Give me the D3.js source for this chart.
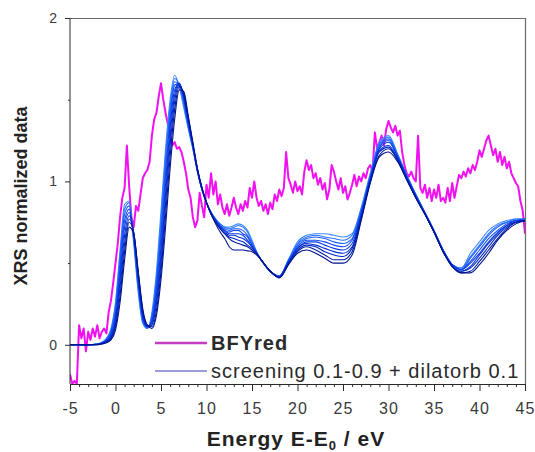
<!DOCTYPE html>
<html>
<head>
<meta charset="utf-8">
<script src="https://cdn.jsdelivr.net/npm/d3@7"></script>
<style>
  body { margin: 0; background: #fff; }
  svg { display: block; }
  text { font-family: "Liberation Sans", Arial, sans-serif; }
</style>
</head>
<body>
<svg id="chart" width="535" height="452"></svg>
<script>
// ---- measured spectrum (BFYred), sampled every 0.25 eV from -5 eV ----
const bfyStart = -5;
const bfyStep = 0.25;
const bfyValues = [
  -0.18, -0.24, -0.22, -0.24,   0.12, 0.04, 0.10, -0.04,
   0.08, 0.03, 0.10, 0.05,      0.12, 0.04, 0.08, 0.10,
   0.07, 0.20, 0.27, 0.38,      0.50, 0.62, 0.78, 0.90,
   0.96, 1.22, 0.97, 0.78,      0.72, 0.85, 0.82, 0.92,
   1.02, 1.05, 1.07, 1.12,      1.28, 1.38, 1.42, 1.52,
   1.60, 1.50, 1.42, 1.35,      1.28, 1.22, 1.24, 1.20,
   1.21, 1.18, 1.12, 1.05,      0.95, 0.90, 0.78, 0.72,
   0.76, 0.93, 0.85, 0.78,      0.98, 0.90, 1.05, 0.92,
   1.00, 0.86, 0.92, 0.84,      0.80, 0.86, 0.79, 0.84,
   0.90, 0.84, 0.80, 0.86,      0.82, 0.88, 0.84, 0.96,
   0.90, 1.00, 0.90, 0.85,      0.88, 0.82, 0.86, 0.80,
   0.87, 0.83, 0.92, 0.88,      0.95, 0.91, 0.96, 1.18,
   1.02, 0.98, 0.93, 1.00,      0.94, 0.97, 0.92, 1.06,
   1.13, 1.07, 1.10, 1.02,      1.05, 0.98, 1.02, 0.95,
   0.99, 0.89, 0.95, 1.10,      1.06, 1.00, 0.95, 1.02,
   0.93, 0.97, 0.89, 0.93,      0.98, 1.04, 0.97, 1.03,
   1.00, 1.05, 1.02, 1.08,      1.10, 1.06, 1.30, 1.20,
   1.24, 1.28, 1.22, 1.32,      1.37, 1.33, 1.30, 1.34,
   1.28, 1.31, 1.18, 1.10,      1.05, 1.03, 1.06, 1.02,
   1.00, 1.28, 0.96, 0.93,      0.98, 0.90, 0.96, 0.88,
   0.95, 0.90, 0.98, 0.88,      0.90, 0.87, 0.96, 0.88,
   0.99, 0.90, 0.97, 1.04,      1.02, 1.06, 1.03, 1.08,
   1.05, 1.10, 1.07, 1.12,      1.19, 1.15, 1.20, 1.25,
   1.28, 1.22, 1.16, 1.20,      1.12, 1.18, 1.10, 1.15,
   1.08, 1.12, 1.05, 1.02,      0.99, 0.97, 0.88, 0.82,
   0.68
];

// ---- calculated spectra: screening 0.1 ... 0.9 (+ dilatorb 0.1) ----
const simEnergy = [
  -5, -4, -3, -2, -1.5, -1, -0.5, 0, 0.5, 1,
  1.5, 2, 2.5, 3, 3.5, 4, 4.5, 5, 5.5, 6,
  6.5, 7, 7.5, 8, 8.5, 9, 9.5, 10, 10.5, 11,
  11.5, 12, 12.5, 13, 13.5, 14, 14.5, 15, 15.5, 16,
  17, 18, 19, 20, 21, 22, 23, 24, 25, 26,
  27, 28, 29, 30, 31, 32, 33, 34, 35, 36,
  37, 38, 39, 40, 41, 42, 43, 44, 45
];
const screeningLevels = [0.1, 0.2, 0.3, 0.4, 0.5, 0.6, 0.7, 0.8, 0.9];
const screeningSpectra = [
  [0,0,0,.005,.015,.04,.10,.26,.58,.86,
   .88,.62,.32,.13,.10,.20,.45,.82,1.20,1.50,
   1.65,1.58,1.45,1.32,1.20,1.06,.95,.87,.81,.77,
   .74,.72,.72,.73,.74,.73,.70,.64,.57,.52,
   .45,.42,.52,.63,.67,.68,.68,.67,.66,.68,
   .84,1.05,1.24,1.28,1.17,1.04,.92,.81,.70,.58,
   .49,.47,.56,.63,.70,.74,.76,.77,.77],
  [0,0,0,.005,.014,.036,.09,.24,.55,.83,
   .87,.64,.34,.14,.10,.18,.41,.77,1.15,1.46,
   1.63,1.59,1.47,1.33,1.20,1.06,.95,.87,.81,.77,
   .74,.72,.71,.72,.73,.72,.69,.63,.57,.52,
   .45,.42,.52,.62,.66,.67,.66,.65,.64,.67,
   .83,1.04,1.23,1.27,1.16,1.04,.92,.81,.70,.58,
   .49,.47,.54,.61,.68,.73,.75,.77,.77],
  [0,0,0,.004,.013,.032,.08,.22,.51,.80,
   .85,.65,.36,.15,.105,.17,.38,.71,1.09,1.42,
   1.61,1.60,1.49,1.34,1.21,1.06,.95,.87,.81,.77,
   .73,.71,.70,.71,.71,.70,.67,.62,.57,.52,
   .45,.42,.51,.61,.65,.66,.65,.63,.62,.65,
   .82,1.03,1.22,1.26,1.16,1.03,.92,.81,.70,.58,
   .49,.46,.53,.60,.67,.72,.75,.76,.77],
  [0,0,0,.004,.011,.028,.07,.19,.47,.76,
   .83,.66,.38,.16,.11,.15,.35,.66,1.04,1.38,
   1.59,1.60,1.50,1.35,1.21,1.07,.95,.87,.81,.76,
   .73,.70,.69,.70,.70,.68,.66,.61,.56,.52,
   .45,.42,.51,.60,.64,.64,.63,.61,.60,.64,
   .81,1.02,1.21,1.25,1.15,1.03,.91,.81,.70,.58,
   .49,.46,.51,.58,.65,.70,.74,.76,.77],
  [0,0,0,.003,.010,.025,.06,.17,.43,.72,
   .81,.67,.40,.17,.11,.14,.31,.60,.98,1.33,
   1.56,1.60,1.51,1.36,1.22,1.07,.95,.87,.81,.76,
   .72,.70,.68,.68,.68,.67,.64,.60,.56,.52,
   .45,.415,.51,.59,.63,.63,.61,.59,.58,.62,
   .80,1.02,1.20,1.24,1.15,1.03,.91,.80,.69,.58,
   .49,.46,.50,.56,.63,.69,.73,.76,.76],
  [0,0,0,.002,.009,.021,.05,.15,.39,.67,
   .79,.68,.41,.18,.115,.13,.28,.55,.92,1.28,
   1.53,1.60,1.52,1.37,1.22,1.07,.96,.87,.80,.76,
   .72,.69,.67,.67,.66,.65,.63,.60,.56,.52,
   .45,.415,.50,.59,.62,.61,.59,.57,.56,.60,
   .79,1.01,1.19,1.22,1.14,1.02,.91,.80,.69,.57,
   .48,.45,.48,.55,.62,.68,.73,.75,.76],
  [0,0,0,.002,.008,.018,.045,.13,.35,.62,
   .77,.685,.43,.19,.115,.12,.25,.50,.86,1.22,
   1.49,1.59,1.53,1.38,1.23,1.07,.96,.87,.80,.75,
   .71,.68,.66,.65,.64,.63,.61,.59,.56,.52,
   .45,.41,.50,.58,.61,.60,.57,.55,.54,.59,
   .78,1.00,1.18,1.21,1.13,1.02,.90,.80,.69,.57,
   .48,.45,.47,.53,.60,.67,.72,.75,.76],
  [0,0,0,.001,.006,.015,.037,.11,.30,.57,
   .75,.69,.44,.205,.12,.11,.21,.45,.79,1.15,
   1.44,1.58,1.54,1.39,1.23,1.08,.96,.87,.80,.75,
   .71,.68,.65,.63,.62,.61,.60,.58,.555,.52,
   .45,.41,.49,.57,.60,.58,.55,.52,.52,.57,
   .77,1.00,1.16,1.20,1.13,1.01,.90,.80,.69,.57,
   .48,.44,.45,.51,.58,.65,.71,.75,.76],
  [0,0,0,0,.005,.012,.03,.09,.26,.52,
   .72,.68,.45,.22,.12,.10,.18,.40,.72,1.08,
   1.38,1.56,1.55,1.40,1.24,1.08,.96,.87,.80,.74,
   .69,.65,.60,.58,.58,.58,.575,.57,.55,.52,
   .45,.41,.49,.56,.58,.56,.53,.50,.50,.55,
   .76,.99,1.15,1.18,1.12,1.01,.90,.80,.69,.57,
   .48,.44,.44,.49,.56,.64,.70,.74,.76]
];
const screeningColors = ["#3d8cff", "#2a72ff", "#1f5eff", "#144af5", "#0a3ce6",
                         "#0532d6", "#0328c0", "#021ca6", "#00128c"];

// ---- axes ----
const xMajorTicks = [-5, 0, 5, 10, 15, 20, 25, 30, 35, 40, 45];
const xMinorTicks = d3.range(-5, 46, 1).filter(v => v % 5 !== 0);
const yMajorTicks = [0, 1, 2];
const yMinorTicks = [0.5, 1.5];

const legendItems = [
  { label: "BFYred", color: "#c43cc4", width: 2.5, bold: true },
  { label: "screening 0.1-0.9 + dilatorb 0.1", color: "#3a3ab0", width: 1, bold: false }
];

const svg = d3.select("#chart");
const plot = { left: 70, right: 525, top: 18, bottom: 384 };

const x = d3.scaleLinear().domain([-5, 45]).range([plot.left, plot.right]);
const y = d3.scaleLinear().domain([-0.24, 2]).range([plot.bottom, plot.top]);

svg.append("defs").append("clipPath").attr("id", "plotClip")
  .append("rect")
  .attr("x", plot.left).attr("y", plot.top)
  .attr("width", plot.right - plot.left).attr("height", plot.bottom - plot.top);

// frame (top / right)
svg.append("path")
  .attr("d", `M${plot.left},${plot.top + 0.5}H${plot.right + 0.5}V${plot.bottom}`)
  .attr("fill", "none").attr("stroke", "#6a6a6a").attr("stroke-width", 1.2);

// data layer
const data = svg.append("g").attr("clip-path", "url(#plotClip)");

const bfyPoints = bfyValues.map((v, i) => [bfyStart + i * bfyStep, v]);
const bfyLine = d3.line().x(d => x(d[0])).y(d => y(d[1])).curve(d3.curveLinear);
data.append("path")
  .attr("d", bfyLine(bfyPoints))
  .attr("fill", "none")
  .attr("stroke", "#f010f0")
  .attr("stroke-width", 2)
  .attr("stroke-linejoin", "round");

const simLine = d3.line()
  .x((d, i) => x(simEnergy[i]))
  .y(d => y(d))
  .curve(d3.curveMonotoneX);

data.selectAll("path.sim")
  .data(screeningSpectra)
  .join("path")
  .attr("class", "sim")
  .attr("d", d => simLine(d))
  .attr("fill", "none")
  .attr("stroke", (d, i) => screeningColors[i])
  .attr("stroke-width", 1.1);

// x axis
const axisColor = "#2a2a2a";
const gx = svg.append("g").attr("transform", `translate(0,${plot.bottom})`);
gx.append("g")
  .call(d3.axisBottom(x).tickValues(xMinorTicks).tickSize(3).tickFormat(""))
  .call(g => g.select(".domain").remove());
gx.append("g")
  .call(d3.axisBottom(x).tickValues(xMajorTicks).tickSize(7).tickPadding(12)
    .tickFormat(d => String(d)))
  .call(g => g.select(".domain").attr("stroke", axisColor));
gx.selectAll("line").attr("stroke", axisColor);
gx.selectAll("text")
  .attr("fill", "#3a3a3a")
  .style("font-size", "16px")
  .style("letter-spacing", "1px")
  .style("font-family", "'Liberation Sans', Arial, sans-serif");

// y axis
const gy = svg.append("g").attr("transform", `translate(${plot.left},0)`);
gy.append("g")
  .call(d3.axisLeft(y).tickValues(yMinorTicks).tickSize(2).tickFormat(""))
  .call(g => g.select(".domain").remove());
gy.append("g")
  .call(d3.axisLeft(y).tickValues(yMajorTicks).tickSize(5).tickPadding(8)
    .tickFormat(d => String(d)))
  .call(g => g.select(".domain")
    .attr("d", `M0,${plot.bottom}V${plot.top}`)
    .attr("stroke", axisColor));
gy.selectAll("line").attr("stroke", axisColor);
gy.selectAll("text")
  .attr("fill", "#3a3a3a")
  .style("font-size", "14px")
  .style("font-family", "'Liberation Sans', Arial, sans-serif");

// axis titles
const xTitle = svg.append("text")
  .attr("x", 296).attr("y", 446)
  .attr("text-anchor", "middle")
  .attr("fill", "#222")
  .style("font-size", "21px")
  .style("font-weight", "bold")
  .style("letter-spacing", "1px");
xTitle.append("tspan").text("Energy E-E");
xTitle.append("tspan").attr("dy", 4).style("font-size", "13px").text("0");
xTitle.append("tspan").attr("dy", -4).text(" / eV");

svg.append("text")
  .attr("transform", "translate(27,196) rotate(-90)")
  .attr("text-anchor", "middle")
  .attr("fill", "#222")
  .style("font-size", "18px")
  .style("font-weight", "bold")
  .text("XRS normalized data");

// legend
const legend = svg.append("g");
legendItems.forEach((item, i) => {
  const cy = 343 + i * 28;
  legend.append("line")
    .attr("x1", 155).attr("x2", 207)
    .attr("y1", cy).attr("y2", cy)
    .attr("stroke", item.color)
    .attr("stroke-width", item.width);
  legend.append("text")
    .attr("x", 211).attr("y", cy + 7)
    .attr("fill", "#2a2a2a")
    .style("font-size", "20px")
    .style("font-weight", item.bold ? "bold" : "normal")
    .style("letter-spacing", "1px")
    .text(item.label);
});
</script>
</body>
</html>
